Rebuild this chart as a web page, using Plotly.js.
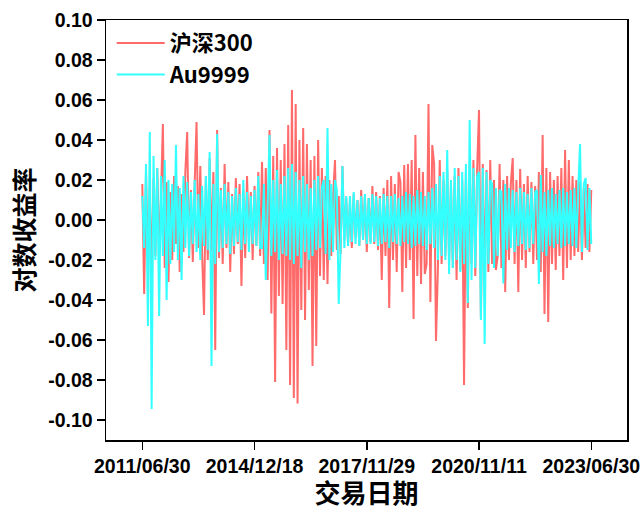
<!DOCTYPE html>
<html>
<head>
<meta charset="utf-8">
<script src="https://cdn.plot.ly/plotly-3.0.1.min.js"></script>
<style>html,body{margin:0;padding:0;background:#fff;}#chart{width:643px;height:510px;}</style>
</head>
<body>
<div id="chart"></div>
<script>
// Series names
const seriesNames = ['沪深300', 'Au9999'];
// X tick labels (trading dates shown on axis)
const xTickLabels = ['2011/06/30', '2014/12/18', '2017/11/29', '2020/11/11', '2023/06/30'];
// Y tick values / labels
const yTickValues = [-0.10, -0.08, -0.06, -0.04, -0.02, 0.00, 0.02, 0.04, 0.06, 0.08, 0.10];
const yTickLabels = ['-0.10', '-0.08', '-0.06', '-0.04', '-0.02', '0.00', '0.02', '0.04', '0.06', '0.08', '0.10'];

const hs300 = [
 .018,-.037,.024,-.022,.016,-.028,.021,-.018,.026,-.015,.012,.048,-.024,.019,-.031,.014,-.02,.022,-.012,.017,
 -.026,.013,-.016,.024,.044,-.019,.015,-.021,.018,.049,-.014,.027,-.018,-.0475,.022,-.02,.031,-.016,.024,-.065,
 .045,-.019,.016,-.022,.028,-.014,.019,-.026,.013,-.017,.021,-.012,.018,-.033,.015,-.019,.022,-.011,.014,-.02,
 .017,-.013,.024,-.018,.029,-.022,.026,-.03,.045,-.0467,.032,-.081,.036,-.038,.03,-.042,.038,-.065,.0475,-.0825,
 .065,-.089,.058,-.0917,.04,-.045,.046,-.05,.038,-.035,.03,-.073,.032,-.063,.04,-.028,.026,-.03,.022,-.032,
 .02,-.018,.012,.03,-.015,.012,-.017,.027,-.01,.011,-.012,.009,-.014,.013,-.009,.01,-.013,.015,-.01,.012,
 -.016,.011,-.011,.017,-.012,.014,-.015,.012,-.03,.016,-.018,.02,-.044,.022,-.02,.018,-.026,.024,.019,-.036,
 .0275,-.024,.028,-.02,.03,-.0495,.0425,-.028,.026,-.032,.024,-.027,-.022,.058,-.041,.0375,.028,-.0605,-.025,.03,
 -.022,.02,-.018,.025,-.02,.018,-.024,.022,-.03,.026,-.025,.02,-.0825,.024,-.044,.028,-.022,.03,-.028,.026,
 .055,-.049,.028,-.03,.025,-.026,.03,-.022,.02,-.025,-.018,.028,-.024,.02,-.036,.022,-.02,.018,.031,-.022,
 .02,-.036,.0255,-.02,.018,-.024,.022,-.016,.019,-.022,.017,-.02,.024,-.026,.0425,-.047,.026,-.051,.024,-.022,
 .02,-.025,.022,-.018,.026,-.03,.035,-.024,.03,-.02,.022,-.018,.02,-.016,.019,-.02,.016,-.014,.018,-.016,
 .015
];

const au9999 = [
 .012,-.014,.028,-.053,.044,-.0945,.032,-.02,.026,-.048,.022,-.018,.03,-.04,.02,-.022,.018,-.016,.0375,-.02,
 .016,-.03,.022,-.014,.019,-.018,.014,-.012,.02,-.016,.013,-.02,.017,-.013,.022,-.015,.034,-.073,.018,-.022,
 .043,-.016,.015,-.014,.018,-.012,.014,-.017,.012,-.013,.016,-.011,.013,-.015,.02,-.012,.014,-.016,.012,-.012,
 .015,-.013,.022,-.014,-.014,.018,-.03,.012,.0425,-.018,.02,-.016,.025,-.02,.018,-.017,.022,-.018,.026,-.02,
 .028,-.022,.024,-.018,.02,-.024,.022,-.016,.018,-.02,.016,-.018,.02,-.015,.022,-.014,.016,.02,-.017,.046,
 -.02,.018,-.016,.02,.015,-.042,-.015,.027,-.014,.012,-.013,.012,-.011,.014,-.012,.01,-.013,.012,-.01,.013,
 -.012,.011,-.012,.013,-.011,.012,-.013,.011,-.012,.013,-.011,.012,-.014,.012,-.011,.013,-.012,.011,-.013,.012,
 -.011,.014,-.012,.013,-.014,.012,-.013,.015,-.012,.014,-.013,.012,-.015,.014,-.012,.016,-.014,.018,-.02,.022,
 -.018,.024,-.02,.035,-.027,.02,-.024,.026,-.02,.022,-.026,.024,-.022,.028,-.0415,.05,-.03,.026,-.024,.022,
 .024,-.05,.026,-.062,.024,-.022,.02,.018,-.024,.016,-.018,.015,.014,-.0317,.018,-.015,.016,-.014,.015,-.016,
 .014,-.013,.016,-.012,.014,-.015,.013,-.014,.016,-.012,.014,.015,-.032,.0225,-.016,.014,-.018,.015,-.013,.016,
 -.014,.013,-.012,.015,-.014,.016,-.013,.014,-.012,.015,-.013,.016,-.014,.015,.038,-.016,.018,.021,-.015,.016,
 -.012
];

const idx = hs300.map((_, i) => i);
const nLast = hs300.length - 1;
const xTickVals = xTickLabels.map((_, k) => nLast * k / (xTickLabels.length - 1));

const fontFam = '"Liberation Sans", Arial, "Noto Sans CJK SC", sans-serif';
const cjkFam = '"Noto Sans CJK SC", "Liberation Sans", sans-serif';

const traces = [
  {x: idx, y: hs300, name: seriesNames[0], type: 'scatter', mode: 'lines',
   line: {color: '#ff6a6a', width: 2}},
  {x: idx, y: au9999, name: seriesNames[1], type: 'scatter', mode: 'lines',
   line: {color: '#33ffff', width: 2}}
];

const layout = {
  width: 643, height: 510,
  paper_bgcolor: '#ffffff', plot_bgcolor: '#ffffff',
  margin: {l: 106, r: 16, t: 20, b: 70},
  showlegend: true,
  legend: {x: 0.011, y: 0.995, xanchor: 'left', yanchor: 'top', bgcolor: 'rgba(0,0,0,0)',
           itemwidth: 48, tracegroupgap: 0,
           font: {family: cjkFam, size: 22, color: '#000', weight: 700}},
  xaxis: {
    range: [-19.4, nLast + 19.1],
    tickmode: 'array', tickvals: xTickVals, ticktext: xTickLabels,
    ticks: 'outside', ticklen: 8, tickwidth: 1.5, tickcolor: '#000',
    showline: true, linecolor: '#000', linewidth: 1.5, mirror: true,
    showgrid: false, zeroline: false,
    tickfont: {family: fontFam, size: 19.5, color: '#000', weight: 700},
    title: {text: '交易日期', font: {family: cjkFam, size: 26, color: '#000', weight: 700}, standoff: 13}
  },
  yaxis: {
    range: [-0.11, 0.10],
    tickmode: 'array', tickvals: yTickValues, ticktext: yTickLabels,
    ticks: 'outside', ticklen: 8, tickwidth: 1.5, tickcolor: '#000',
    showline: true, linecolor: '#000', linewidth: 1.5, mirror: true,
    showgrid: false, zeroline: false,
    tickfont: {family: fontFam, size: 19.5, color: '#000', weight: 700},
    title: {text: '对数收益率', font: {family: cjkFam, size: 25, color: '#000', weight: 700}, standoff: 6}
  }
};

Plotly.newPlot('chart', traces, layout, {staticPlot: true, displayModeBar: false});
</script>
</body>
</html>
